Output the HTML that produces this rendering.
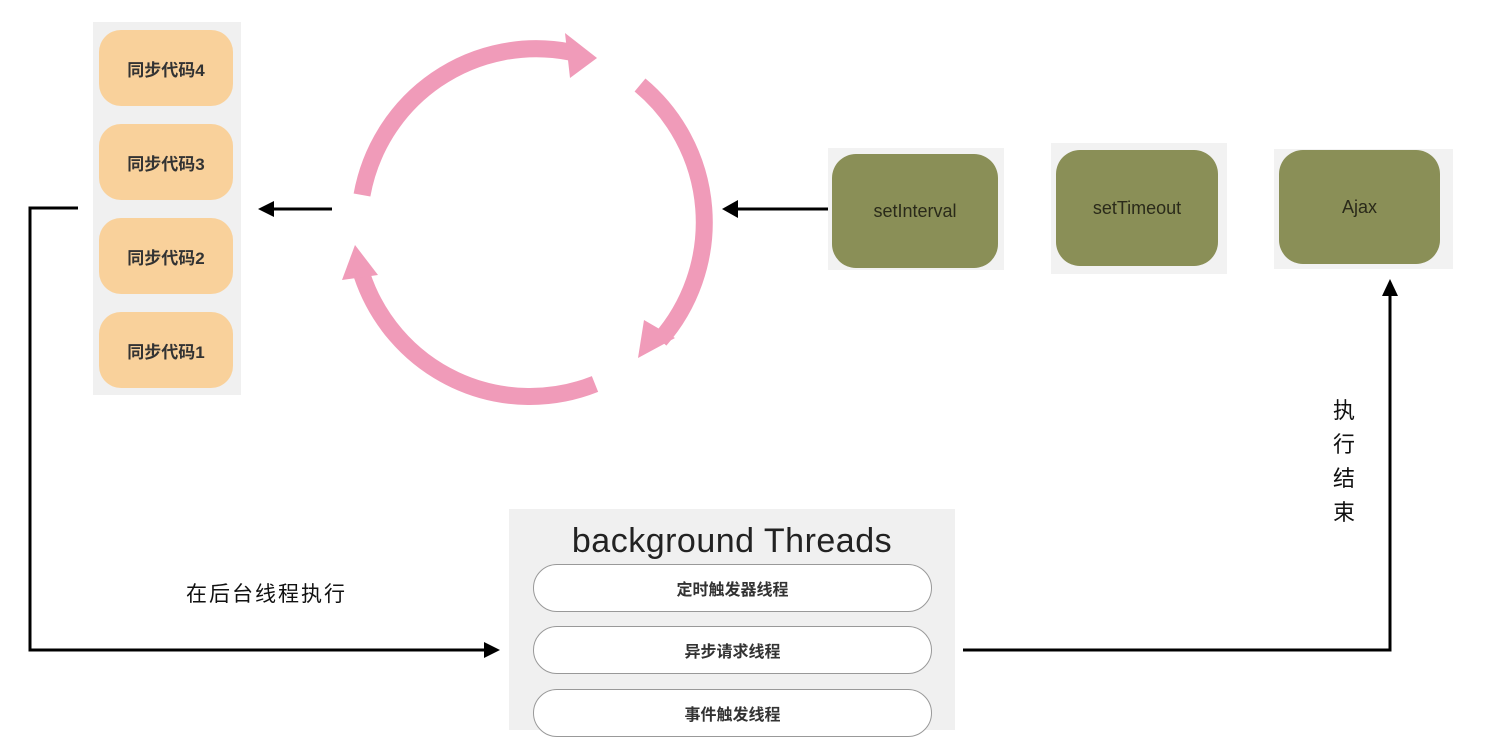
<!DOCTYPE html>
<html><head><meta charset="utf-8"><style>
body{margin:0;width:1490px;height:730px;background:#fff;position:relative;overflow:hidden;font-family:"Liberation Sans","Noto Sans CJK SC",sans-serif}
.a{position:absolute}
.o{position:absolute;left:99px;width:134px;height:76px;background:#f9d19b;border-radius:22px;display:flex;align-items:center;justify-content:center;font-size:17px;font-weight:bold;color:#333}
.g{position:absolute;background:#8a8f57;border-radius:24px;display:flex;align-items:center;justify-content:center;font-size:18px;color:#2a2a1a}
.p{position:absolute;left:533px;width:397px;height:46px;border:1.5px solid #999;border-radius:24px;background:#fff;display:flex;align-items:center;justify-content:center;font-size:16px;font-weight:bold;color:#333}
</style></head><body>
<div class="a" style="left:93px;top:22px;width:148px;height:373px;background:#f0f0f0"></div>
<div class="o" style="top:30px">同步代码4</div>
<div class="o" style="top:124px">同步代码3</div>
<div class="o" style="top:218px">同步代码2</div>
<div class="o" style="top:312px">同步代码1</div>

<div class="a" style="left:828px;top:148px;width:176px;height:122px;background:#f2f2f2"></div>
<div class="g" style="left:832px;top:154px;width:166px;height:114px">setInterval</div>
<div class="a" style="left:1051px;top:143px;width:176px;height:131px;background:#f2f2f2"></div>
<div class="g" style="left:1056px;top:150px;width:162px;height:116px">setTimeout</div>
<div class="a" style="left:1274px;top:149px;width:179px;height:120px;background:#f2f2f2"></div>
<div class="g" style="left:1279px;top:150px;width:161px;height:114px">Ajax</div>

<div class="a" style="left:509px;top:509px;width:446px;height:221px;background:#f0f0f0"></div>
<div class="a" style="left:509px;top:522px;width:446px;text-align:center;font-size:34px;color:#222;letter-spacing:0.5px">background Threads</div>
<div class="p" style="top:564px">定时触发器线程</div>
<div class="p" style="top:626px">异步请求线程</div>
<div class="p" style="top:689px">事件触发线程</div>

<div class="a" style="left:186px;top:578px;font-size:21px;letter-spacing:2px;color:#111">在后台线程执行</div>
<div class="a" style="left:1333px;top:394px;width:24px;font-size:22px;line-height:34px;color:#111">执<br>行<br>结<br>束</div>

<svg class="a" style="left:0;top:0" width="1490" height="730">
<g stroke="#000" stroke-width="3" fill="none">
<line x1="332" y1="209" x2="272" y2="209"/>
<path d="M258,209l16,-8v16z" fill="#000" stroke="none"/>
<line x1="828" y1="209" x2="736" y2="209"/>
<path d="M722,209l16,-9v18z" fill="#000" stroke="none"/>
<polyline points="78,208 30,208 30,650 486,650"/>
<path d="M500,650l-16,-8v16z" fill="#000" stroke="none"/>
<polyline points="963,650 1390,650 1390,295"/>
<path d="M1390,279l-8,17h16z" fill="#000" stroke="none"/>
</g>
<g stroke="#f09bb9" stroke-width="17" fill="none">
<path d="M362,195 A177,178 0 0 1 570,52"/>
<path d="M640,85 A177,178 0 0 1 660,340"/>
<path d="M595,384 A177,178 0 0 1 362,275"/>
</g>
<g fill="#f09bb9">
<path d="M597,58 L565,33 L570,78z"/>
<path d="M638,358 L644,320 L675,338z"/>
<path d="M355,245 L342,280 L378,275z"/>
</g>
</svg>
</body></html>
